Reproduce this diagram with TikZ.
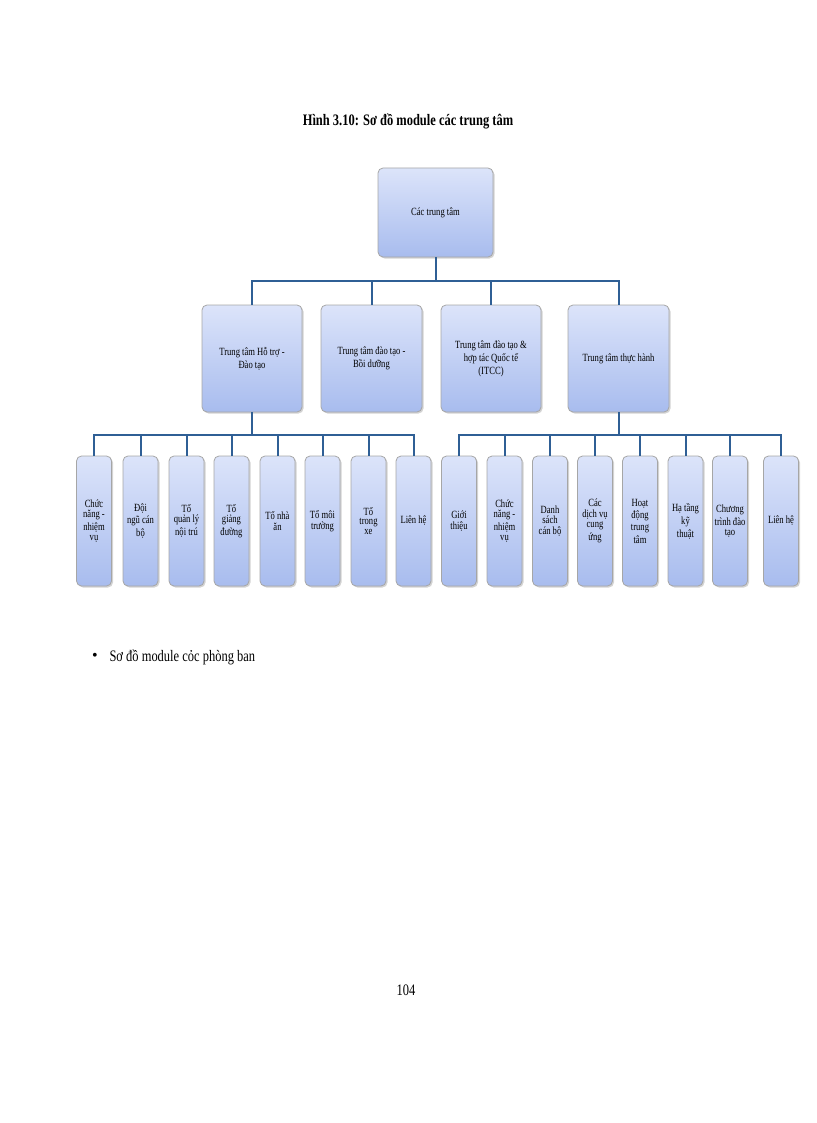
\documentclass[tikz,border=0pt]{standalone}
\usepackage{fontspec}
\setmainfont{Liberation Serif}
\usetikzlibrary{shadows}
\definecolor{bxtop}{HTML}{DCE4FA}
\definecolor{bxbot}{HTML}{A8BCEE}
\definecolor{ln}{HTML}{2F5F95}
\tikzset{
 bx/.style={draw=gray!70,line width=0.8pt,rounded corners=5pt,top color=bxtop,bottom color=bxbot,
  drop shadow={shadow xshift=1.5pt,shadow yshift=-1.5pt,opacity=0.35},align=center,inner sep=1pt,
  font=\fontsize{11}{13}\selectfont},
 cn/.style={draw=ln,line width=2pt}
}
\newcommand{\nar}[1]{\scalebox{0.78}[1]{#1}}
\begin{document}
\begin{tikzpicture}[x=1pt,y=-1pt]
\useasboundingbox (0,0) rectangle (816,1123);
\node[font=\bfseries\fontsize{16}{18}\selectfont] (title) at (408,121) {\nar{Hình 3.10: Sơ đồ module các trung tâm}};
\node[bx,minimum width=115,minimum height=89] (top) at (435.5,212.5) {\nar{Các trung tâm}};
\node[bx,minimum width=100,minimum height=107] (a) at (252,358.5) {\nar{\shortstack{Trung tâm Hỗ trợ -\\Đào tạo}}};
\node[bx,minimum width=101,minimum height=107] (b) at (371.5,358.5) {\nar{\shortstack{Trung tâm đào tạo -\\Bồi dưỡng}}};
\node[bx,minimum width=100,minimum height=107] (c) at (491,358.5) {\nar{\shortstack{Trung tâm đào tạo \&\\hợp tác Quốc tế\\(ITCC)}}};
\node[bx,minimum width=101,minimum height=107] (d) at (618.5,358.5) {\nar{Trung tâm thực hành}};
\coordinate (j) at (435.5,281);
\draw[cn] (top.south) -- (j);
\draw[cn] (a.north) |- (j) -| (d.north);
\draw[cn] (b.north) -- (b.north|-j);
\draw[cn] (c.north) -- (c.north|-j);
\foreach \n/\x/\t in {l1/94/{Chức\\năng -\\nhiệm\\vụ},l2/140.5/{Đội\\ngũ cán\\bộ},l3/186.5/{Tổ\\quản lý\\nội trú},l4/231.5/{Tổ\\giảng\\đường},l5/277.5/{Tổ nhà\\ăn},l6/322.5/{Tổ môi\\trường},l7/368.5/{Tổ\\trong\\xe},l8/413.5/{Liên hệ},
 r1/459/{Giới\\thiệu},r2/504.5/{Chức\\năng -\\nhiệm\\vụ},r3/550/{Danh\\sách\\cán bộ},r4/595/{Các\\dịch vụ\\cung\\ứng},r5/640/{Hoạt\\động\\trung\\tâm},r6/685.5/{Hạ tầng\\kỹ\\thuật},r7/730/{Chương\\trình đào\\tạo},r8/781/{Liên hệ}}
 {\node[bx,minimum width=35,minimum height=130] (\n) at (\x,521) {\nar{\shortstack{\t}}};}
\coordinate (jl) at (252,435);
\coordinate (jr) at (618.5,435);
\draw[cn] (a.south) -- (jl);
\draw[cn] (d.south) -- (jr);
\draw[cn] (l1.north) |- (jl) -| (l8.north);
\draw[cn] (r1.north) |- (jr) -| (r8.north);
\foreach \n in {l2,l3,l4,l5,l6,l7}{\draw[cn] (\n.north) -- (\n.north|-jl);}
\foreach \n in {r2,r3,r4,r5,r6,r7}{\draw[cn] (\n.north) -- (\n.north|-jr);}
\node[font=\fontsize{16}{18}\selectfont] (bul) at (95,657) {•};
\node[font=\fontsize{16}{18}\selectfont,anchor=west] (btxt) at (106,657) {\nar{Sơ đồ module cỏc phòng ban}};
\node[font=\fontsize{16}{18}\selectfont] (pg) at (406,990) {\nar{104}};
\end{tikzpicture}
\end{document}
